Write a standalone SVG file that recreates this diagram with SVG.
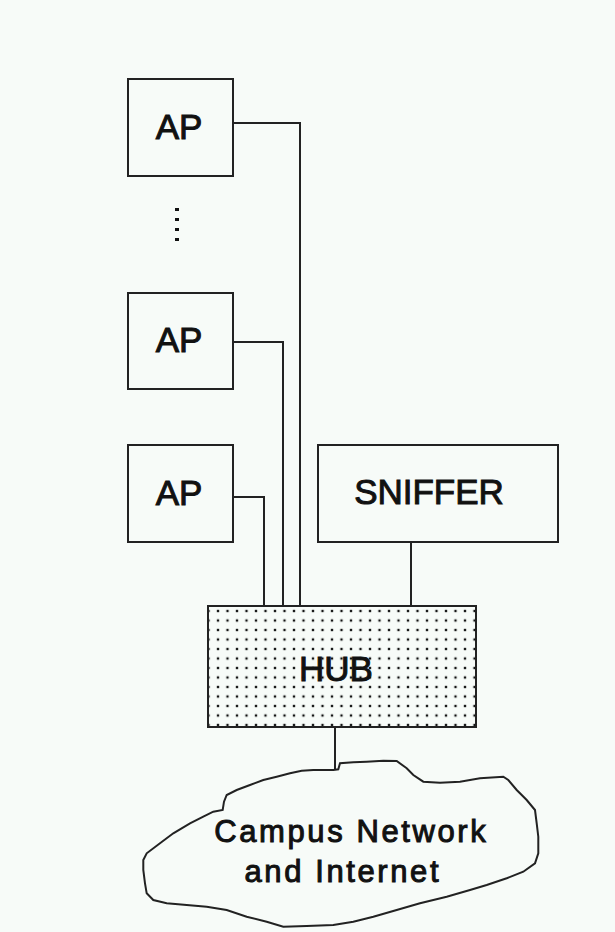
<svg xmlns="http://www.w3.org/2000/svg" width="615" height="932" viewBox="0 0 615 932">
<style>
.box{fill:none;stroke:#222;stroke-width:2}
.wire{fill:none;stroke:#222;stroke-width:2}
.lbl{font-family:"Liberation Sans",Arial,sans-serif;font-size:35px;fill:#111;stroke:#111;stroke-width:1;text-anchor:middle}
.cl{font-family:"Liberation Sans",Arial,sans-serif;font-size:31px;letter-spacing:2.6px;fill:#111;stroke:#111;stroke-width:1;text-anchor:middle}
</style>
<defs>
<pattern id="dots" width="9.5" height="9.5" patternUnits="userSpaceOnUse" x="213.25" y="606.25">
<rect x="3.6" y="3.6" width="2.3" height="2.3" fill="#111"/>
</pattern>
</defs>
<rect width="615" height="932" fill="#f7fbf8"/>
<g id="connectors">
<polyline class="wire" points="233,123 300,123 300,606"/>
<polyline class="wire" points="233,342 283,342 283,606"/>
<polyline class="wire" points="233,497 264,497 264,606"/>
<line class="wire" x1="411" y1="542" x2="411" y2="606"/>
<line class="wire" x1="335" y1="727" x2="335" y2="770"/>
</g>
<g id="ap1">
<rect class="box" x="128" y="79" width="105" height="97"/>
<text class="lbl" x="179" y="139">AP</text>
</g>
<g id="ellipsis">
<rect x="175" y="208" width="4" height="3" fill="#111"/>
<rect x="175" y="218" width="4" height="3" fill="#111"/>
<rect x="175" y="228" width="4" height="3" fill="#111"/>
<rect x="175" y="238" width="4" height="3" fill="#111"/>
</g>
<g id="ap2">
<rect class="box" x="128" y="293" width="105" height="96"/>
<text class="lbl" x="179" y="352">AP</text>
</g>
<g id="ap3">
<rect class="box" x="128" y="445" width="105" height="97"/>
<text class="lbl" x="179" y="505">AP</text>
</g>
<g id="sniffer">
<rect class="box" x="318" y="445" width="240" height="97"/>
<text class="lbl" x="429" y="504">SNIFFER</text>
</g>
<g id="hub">
<rect x="208" y="606" width="268" height="121" fill="url(#dots)" stroke="#222" stroke-width="2"/>
<text class="lbl" x="336" y="681">HUB</text>
</g>
<g id="cloud">
<path class="box" d="M333.3,770 L313.3,770 L301.7,770.7 L290,773.3 L276.7,776.7 L263.3,780 L250,785 L236.7,790 L226.7,795 L224,801.7 L222.7,810 L213.3,811.7 L203.3,816.7 L190,823.3 L173.3,833.3 L160,843.3 L146.7,853.3 L143.3,860 L143.3,870 L145,883.3 L146.7,893.3 L153.3,900 L166.7,903.3 L186.7,905 L206.7,906.7 L226.7,910 L246.7,916.7 L266.7,921.7 L283.3,926.7 L306.7,926 L333.3,925 L353.3,921.7 L373.3,916.7 L396.7,910 L420,903.3 L446.7,896.7 L470,890 L486.7,885 L506.7,878.3 L523.3,871.7 L535,863.3 L538.3,853.3 L538.3,836.7 L536.7,823.3 L535,810 L526.7,800 L516.7,790 L508.3,780 L503.3,776.7 L480,778.3 L460,781.7 L440,782.7 L423.3,781.7 L413.3,775 L406.7,768.3 L396.7,761 L383.3,760.7 L366.7,761.7 L353.3,762.3 L340,763.3 L338.3,769.3 Z"/>
<text class="cl" x="351.3" y="842">Campus Network</text>
<text class="cl" x="342.8" y="882">and Internet</text>
</g>
</svg>
